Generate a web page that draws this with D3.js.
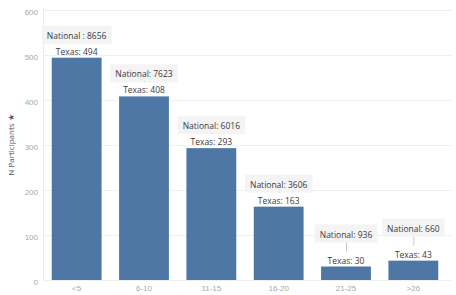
<!DOCTYPE html>
<html>
<head>
<meta charset="utf-8">
<script src="https://cdn.jsdelivr.net/npm/d3@7"></script>
<style>
  body { margin: 0; background: #fff; }
  svg { font-family: "Open Sans", "Noto Sans", sans-serif; }
</style>
</head>
<body>
<svg id="chart" width="456" height="295"></svg>
<script>
// groups on the x axis
var categories = ["<5", "6-10", "11-15", "16-20", "21-25", ">26"];
// Texas participants (bar heights)
var texasValues = [494, 408, 293, 163, 30, 43];
// national participants (shown in the callouts only)
var nationalValues = [8656, 7623, 6016, 3606, 936, 660];
var nationalSep = [" : ", ": ", ": ", ": ", ": ", ": "];
var yTicks = [0, 100, 200, 300, 400, 500, 600];

var svg = d3.select("#chart");

var x = d3.scaleBand()
  .domain(categories)
  .range([43, 447])
  .paddingInner(0.26)
  .paddingOuter(0.13);

var y = d3.scaleLinear()
  .domain([0, 600])
  .range([280, 10]);

// grid
svg.append("g")
  .selectAll("line")
  .data(yTicks)
  .enter().append("line")
  .attr("x1", 43).attr("x2", 452)
  .attr("y1", function(d) { return y(d) + 0.5; })
  .attr("y2", function(d) { return y(d) + 0.5; })
  .attr("stroke", "#f0f0f0");

svg.append("line")
  .attr("x1", 43.5).attr("x2", 43.5)
  .attr("y1", 8).attr("y2", 281)
  .attr("stroke", "#ececec");

// y axis
var yAxis = svg.append("g")
  .attr("transform", "translate(38,2)")
  .call(d3.axisLeft(y).tickValues(yTicks).tickSize(0).tickPadding(0));
yAxis.select(".domain").remove();
yAxis.selectAll("text")
  .attr("fill", "#a8a8a8")
  .style("font-size", "8px");

svg.append("text")
  .attr("transform", "translate(14,145) rotate(-90)")
  .attr("text-anchor", "middle")
  .attr("fill", "#555")
  .style("font-size", "8px")
  .text("N Participants \u2605");

// x axis
var xAxis = svg.append("g")
  .attr("transform", "translate(0,282)")
  .call(d3.axisBottom(x).tickSize(0).tickPadding(3));
xAxis.select(".domain").remove();
xAxis.selectAll("text")
  .attr("fill", "#a8a8a8")
  .style("font-size", "8px");

// bars
svg.append("g")
  .selectAll("rect")
  .data(texasValues)
  .enter().append("rect")
  .attr("x", function(d, i) { return x(categories[i]); })
  .attr("width", x.bandwidth())
  .attr("y", function(d) { return y(d); })
  .attr("height", function(d) { return y(0) - y(d); })
  .attr("fill", "#4e77a5");

// callouts
var notes = svg.append("g")
  .selectAll("g")
  .data(texasValues)
  .enter().append("g")
  .attr("transform", function(d, i) {
    return "translate(" + (x(categories[i]) + x.bandwidth() / 2) + "," + y(d) + ")";
  });

notes.each(function(d, i) {
  var g = d3.select(this);
  var off = y(d) > 220 ? 32 : 22;

  var nat = g.append("text")
    .attr("text-anchor", "middle")
    .attr("y", -off + 3)
    .attr("fill", "#3a3a3a")
    .style("font-size", "8.5px")
    .text("National" + nationalSep[i] + nationalValues[i]);
  var bb = nat.node().getBBox();
  g.insert("rect", "text")
    .attr("x", bb.x - 5)
    .attr("y", bb.y - 4)
    .attr("width", bb.width + 10)
    .attr("height", bb.height + 7)
    .attr("fill", "#f4f4f4");

  if (i > 0) {
    g.append("line")
      .attr("x1", 0.5).attr("x2", 0.5)
      .attr("y1", bb.y + bb.height + 3)
      .attr("y2", -15)
      .attr("stroke", "#c8c8c8");
  }

  g.append("text")
    .attr("text-anchor", "middle")
    .attr("y", -3)
    .attr("fill", "#3a3a3a")
    .style("font-size", "8.5px")
    .text("Texas: " + d);
});
</script>
</body>
</html>
